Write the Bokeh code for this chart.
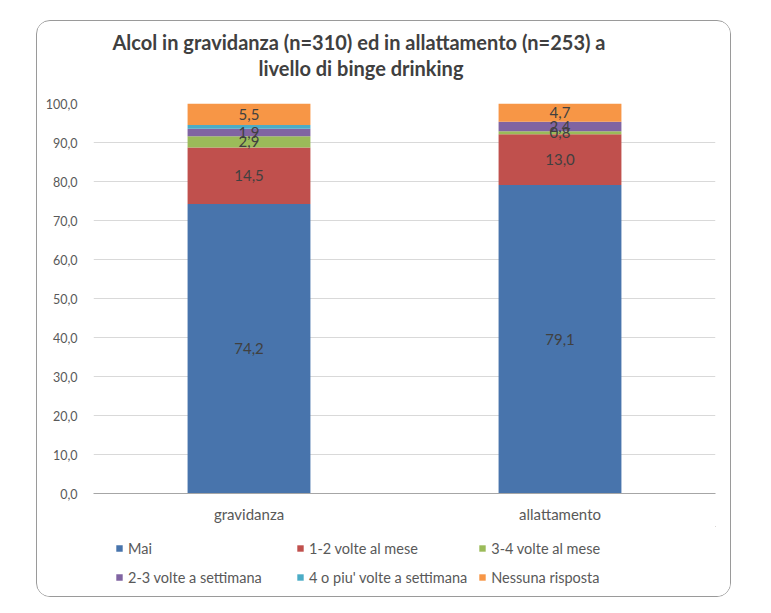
from bokeh.plotting import figure
from bokeh.layouts import column
from bokeh.models import (ColumnDataSource, Legend, LegendItem, Title, LabelSet,
                          CustomJSTickFormatter, FactorRange, Range1d, SingleIntervalTicker)
from bokeh.embed import file_html
from bokeh.resources import INLINE
from bokeh.core.properties import value

categories = ["gravidanza", "allattamento"]
series = ["Mai", "1-2 volte al mese", "3-4 volte al mese",
          "2-3 volte a settimana", "4 o piu' volte a settimana", "Nessuna risposta"]
mai = [74.2, 79.1]
volte12_mese = [14.5, 13.0]
volte34_mese = [2.9, 0.8]
volte23_sett = [1.9, 2.4]
volte4_sett = [1.0, 0.0]
nessuna = [5.5, 4.7]
show_label = [True, True, True, True, False, True]
colors = ["#4874AC", "#C0504D", "#9BBB59", "#8064A2", "#4BACC6", "#F79646"]
title_lines = ["Alcol in gravidanza (n=310) ed in allattamento (n=253) a",
               "livello di binge drinking"]

FONT = "Lato"
TXT = "#595959"

keys = ["s0", "s1", "s2", "s3", "s4", "s5"]
vals = [mai, volte12_mese, volte34_mese, volte23_sett, volte4_sett, nessuna]
data = {"cat": categories}
for k, v in zip(keys, vals):
    data[k] = v
source = ColumnDataSource(data)

p = figure(x_range=FactorRange(*categories, range_padding=0), y_range=Range1d(0, 100),
           frame_width=622, frame_height=390,
           min_border_left=56, min_border_right=15, min_border_top=82, min_border_bottom=33,
           output_backend="svg", toolbar_location=None, background_fill_color="white",
           border_fill_color="white")
p.outline_line_color = None

renderers = p.vbar_stack(keys, x="cat", width=0.395, source=source, color=colors,
                         line_color=None)

# data labels
for i, (k, v) in enumerate(zip(keys, vals)):
    if not show_label[i]:
        continue
    mids = []
    for j in range(len(categories)):
        base = sum(vals[m][j] for m in range(i))
        mids.append(base + v[j] / 2)
    texts = [("%.1f" % x).replace(".", ",") for x in v]
    ls = ColumnDataSource({"cat": categories, "y": mids, "t": texts})
    p.add_layout(LabelSet(x="cat", y="y", text="t", source=ls, text_align="center",
                          text_baseline="middle", text_font=value(FONT),
                          text_font_size="15px", text_color="#404040"))

# axes
p.yaxis.ticker = SingleIntervalTicker(interval=10)
p.yaxis.formatter = CustomJSTickFormatter(code="return tick.toFixed(1).replace('.', ',');")
p.yaxis.axis_line_color = None
p.yaxis.major_tick_line_color = None
p.yaxis.minor_tick_line_color = None
p.yaxis.major_label_standoff = 10
p.yaxis.major_label_text_font = FONT
p.yaxis.major_label_text_font_size = "12.5px"
p.yaxis.major_label_text_color = TXT

p.xaxis.axis_line_color = "#A6A6A6"
p.xaxis.major_tick_line_color = None
p.xaxis.minor_tick_line_color = None
p.xaxis.major_label_standoff = 5
p.xaxis.major_label_text_font = FONT
p.xaxis.major_label_text_font_size = "15px"
p.xaxis.major_label_text_color = TXT

p.xgrid.grid_line_color = None
p.ygrid.grid_line_color = "#D9D9D9"

# title (two lines) with a spacer between the frame and the title
spacer = Title(text=" ", text_font_size="1px", standoff=21)
t2 = Title(text=title_lines[1], align="left", offset=165, text_font=FONT,
           text_font_size="20px", text_font_style="bold", text_color="#404040", standoff=0)
t1 = Title(text=title_lines[0], align="left", offset=19, text_font=FONT,
           text_font_size="20px", text_font_style="bold", text_color="#404040", standoff=0)
p.add_layout(spacer, "above")
p.add_layout(t2, "above")
p.add_layout(t1, "above")

# legend panel (separate strip below the chart); swatch glyphs lie outside the view
lf = figure(width=693, height=70, x_range=Range1d(0, 1), y_range=Range1d(0, 1),
            min_border=0, x_axis_location=None, y_axis_location=None,
            output_backend="svg", toolbar_location=None, background_fill_color="white",
            border_fill_color="white")
lf.outline_line_color = None
lf.grid.visible = False
items = []
for s, c in zip(series, colors):
    r = lf.vbar(x=[5], top=[6], bottom=[5], width=1, fill_color=c, line_color=None)
    items.append(LegendItem(label=s, renderers=[r]))
legend = Legend(items=items, orientation="horizontal", ncols=3, location=(22, 10),
                padding=0, margin=0, spacing=11, label_width=157, label_height=18,
                glyph_width=8, glyph_height=8, label_standoff=5, border_line_color=None,
                background_fill_alpha=0, label_text_font=FONT,
                label_text_font_size="14.5px", label_text_color=TXT)
lf.add_layout(legend, "center")

layout = column(p, lf, spacing=0)
layout.margin = (20, 0, 0, 36)
layout.styles = {"border": "1px solid #9A9A9A", "border-radius": "14px",
                 "overflow": "hidden", "background-color": "white"}

open("out.html", "w").write(file_html(layout, INLINE))
